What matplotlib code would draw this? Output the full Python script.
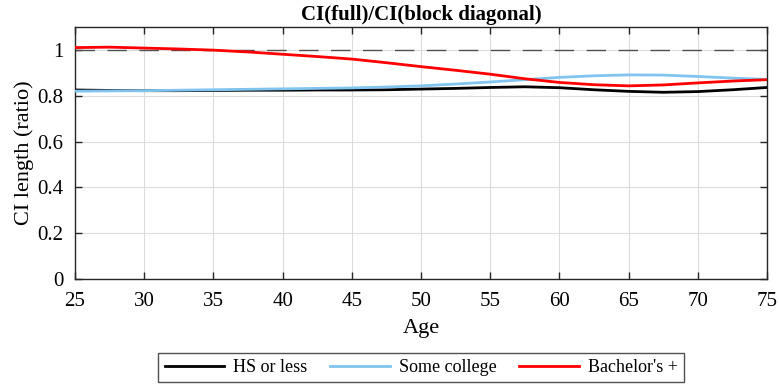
import numpy as np
import matplotlib.pyplot as plt

plt.rcParams['font.family'] = ['Liberation Serif', 'DejaVu Serif']

# Idade e razao dos comprimentos dos ICs
age = [25, 27.5, 30, 32.5, 35, 37.5, 40, 42.5, 45, 47.5, 50, 52.5, 55,
       57.5, 60, 62.5, 65, 67.5, 70, 72.5, 75]
hs_or_less = [0.825, 0.823, 0.822, 0.822, 0.823, 0.824, 0.824, 0.825, 0.825,
              0.826, 0.829, 0.832, 0.836, 0.839, 0.835, 0.826, 0.819, 0.815,
              0.818, 0.826, 0.836]
some_college = [0.820, 0.821, 0.822, 0.824, 0.826, 0.828, 0.830, 0.832, 0.834,
                0.838, 0.843, 0.851, 0.860, 0.870, 0.880, 0.887, 0.891, 0.890,
                0.884, 0.877, 0.871]
bachelors = [1.010, 1.012, 1.008, 1.004, 0.999, 0.991, 0.981, 0.971, 0.960,
             0.944, 0.927, 0.911, 0.894, 0.874, 0.858, 0.848, 0.843, 0.847,
             0.856, 0.864, 0.870]
labels = ['HS or less', 'Some college', "Bachelor's +"]
colors = ['black', '#80c4ef', 'red']

fig = plt.figure(figsize=(7.79, 3.85), dpi=100)
ax = fig.add_axes([0.0963, 0.2753, 0.8883, 0.6546])

ax.axhline(1.0, color='#505050', lw=1.0, ls=(0, (14, 9)), zorder=2)
for y, lab, c in zip([hs_or_less, some_college, bachelors], labels, colors):
    ax.plot(age, y, color=c, lw=2.0, label=lab, zorder=3)

ax.set_xlim(25, 75)
ax.set_ylim(0, 1.1)
ax.set_xticks(np.arange(25, 76, 5))
ax.set_yticks([0, 0.2, 0.4, 0.6, 0.8, 1.0])
ax.set_yticklabels(['0', '0.2', '0.4', '0.6', '0.8', '1'])
ax.grid(True, color='#dcdcdc', lw=0.8)
ax.set_axisbelow(True)
ax.tick_params(direction='in', top=True, right=True, labelsize=15,
               colors='#262626', length=5, width=1)
ax.tick_params(axis='x', pad=9.3)
ax.tick_params(axis='y', pad=8.5)
for s in ax.spines.values():
    s.set_color('#262626')
    s.set_linewidth(1.0)
for t in ax.get_xticklabels() + ax.get_yticklabels():
    t.set_color('black')

ax.set_xlabel('Age', fontsize=16, labelpad=6)
ax.set_ylabel('CI length (ratio)', fontsize=16, labelpad=2)
ax.set_title('CI(full)/CI(block diagonal)', fontsize=15, fontweight='bold', pad=5)

leg = fig.legend(loc='lower center', bbox_to_anchor=(0.5405, 0.007), ncol=3,
                 fontsize=13, frameon=True, fancybox=False, edgecolor='#262626',
                 handlelength=3.3, columnspacing=1.25, handletextpad=0.5,
                 borderpad=0.35, borderaxespad=0)
leg.get_frame().set_linewidth(1.0)

fig.savefig('out.png', dpi=100)
